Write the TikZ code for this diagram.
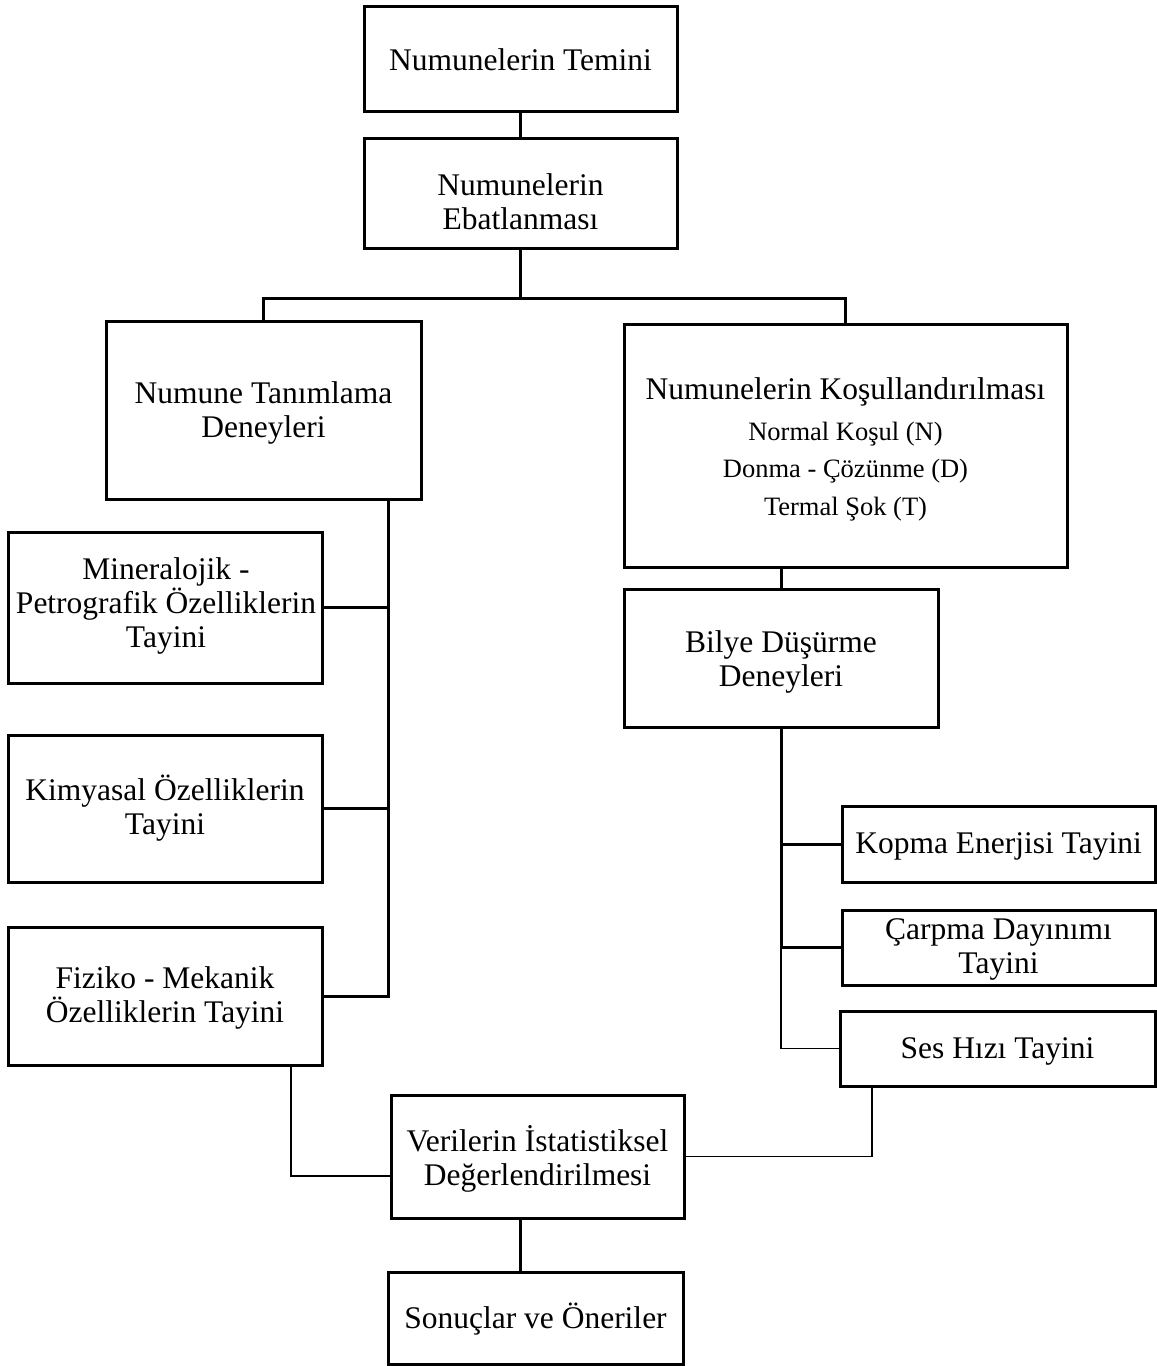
\documentclass[tikz,border=0pt]{standalone}
\usepackage{fontspec}
\setmainfont{Liberation Serif}
\newcommand\mkbox[5]{\node[box, minimum width={#3-#2}, minimum height={#5-#4}] (#1) at ({(#2+#3)/2},{(#4+#5)/2}) {};}
\begin{document}
\begin{tikzpicture}[x=1pt,y=-1pt,
 box/.style={draw, line width=3pt, inner sep=0pt, outer sep=0pt},
 txt/.style={anchor=base, align=center, inner sep=0pt, font=\fontsize{31.5}{34}\selectfont},
 stxt/.style={anchor=base, align=center, inner sep=0pt, font=\fontsize{26.5}{37.5}\selectfont},
 conn/.style={line width=3pt},
 thinconn/.style={line width=1.4pt}]
\useasboundingbox (0,0) rectangle (1157,1366);
% boxes
\mkbox{A}{364}{677}{6}{111}
\mkbox{B}{364}{677}{138}{248}
\mkbox{C}{106}{421}{321}{499}
\mkbox{D}{624}{1067}{324}{567}
\mkbox{E}{8}{322}{532}{683}
\mkbox{F}{8}{322}{735}{882}
\mkbox{G}{8}{322}{927}{1065}
\mkbox{H}{624}{938}{589}{727}
\mkbox{I}{842}{1155}{806}{882}
\mkbox{J}{842}{1155}{910}{985}
\mkbox{K}{840}{1155}{1011}{1086}
\mkbox{L}{391}{684}{1095}{1218}
\mkbox{M}{388}{683}{1272}{1364}
% texts (base anchor = baseline of the last line)
\node[txt] (At) at (520.5,70) {Numunelerin Temini};
\node[txt] (Bt) at (520.5,229) {Numunelerin\\Ebatlanması};
\node[txt] (Ct) at (263.5,437) {Numune Tanımlama\\Deneyleri};
\node[txt] (Dt) at (845.5,399) {Numunelerin Koşullandırılması};
\node[stxt] (Dn) at (845.5,440) {Normal Koşul (N)};
\node[stxt] (Dd) at (845.5,477) {Donma - Çözünme (D)};
\node[stxt] (Dm) at (845.5,515) {Termal Şok (T)};
\node[txt] (Et) at (166,647) {Mineralojik -\\Petrografik Özelliklerin\\Tayini};
\node[txt] (Ft) at (165,834) {Kimyasal Özelliklerin\\Tayini};
\node[txt] (Gt) at (165,1022) {Fiziko - Mekanik\\Özelliklerin Tayini};
\node[txt] (Ht) at (781,686) {Bilye Düşürme\\Deneyleri};
\node[txt] (It) at (998.5,853) {Kopma Enerjisi Tayini};
\node[txt] (Jt) at (998.5,973) {Çarpma Dayınımı\\Tayini};
\node[txt] (Kt) at (997.5,1058) {Ses Hızı Tayini};
\node[txt] (Lt) at (537.5,1185) {Verilerin İstatistiksel\\Değerlendirilmesi};
\node[txt] (Mt) at (535.5,1328) {Sonuçlar ve Öneriler};
% bus coordinates
\coordinate (j1) at (520.5,298);
\coordinate (bus1) at (388,0);
\coordinate (bus3) at (291,0);
\coordinate (bus4) at (0,1176);
\coordinate (bus5) at (872,0);
\coordinate (bus6) at (520.5,0);
% connectors
\draw[conn] (A.south) -- (B.north);
\draw[conn] (B.south) -- (j1);
\draw[conn] (C.north) |- (j1) -| (D.north);
\draw[conn] (C.south -| bus1) -- (bus1 |- G.east) -- (G.east);
\draw[conn] (E.east) -- (E.east -| bus1);
\draw[conn] (F.east) -- (F.east -| bus1);
\draw[conn] (D.south -| H.north) -- (H.north);
\draw[conn] (H.south) -- (H.south |- J.west) -- (J.west);
\draw[conn] (I.west) -- (I.west -| H.south);
\draw[thinconn] (H.south |- J.west) |- (K.west);
\draw[thinconn] (G.south -| bus3) |- (bus4 -| L.west);
\draw[thinconn] (K.south -| bus5) |- (L.east);
\draw[conn] (L.south -| bus6) -- (M.north -| bus6);
\end{tikzpicture}
\end{document}
